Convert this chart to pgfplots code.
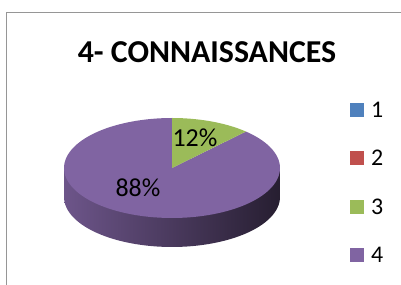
\documentclass[border=0pt]{standalone}
\usepackage{fontspec}
\setmainfont{Carlito}
\usepackage{pgfplots}
\pgfplotsset{compat=1.18}
\definecolor{c1}{HTML}{4F81BD}
\definecolor{c2}{HTML}{C0504D}
\definecolor{c3}{HTML}{9BBB59}
\definecolor{c4}{HTML}{8064A2}
\definecolor{frame}{RGB}{150,150,150}
% pie values (percent)
\def\valA{0}\def\valB{0}\def\valC{12}\def\valD{88}
% geometry (in axis units = bp)
\def\cx{172}\def\cy{117}\def\ra{108}\def\rb{50}\def\dep{29}
\begin{document}
\begin{tikzpicture}
\pgfmathsetmacro{\angC}{90-3.6*\valC}
\pgfmathsetmacro{\angD}{\angC-3.6*\valD}
\begin{axis}[
  at={(0,0)}, anchor=south west,
  scale only axis, width=401bp, height=285bp,
  xmin=0, xmax=401, ymin=0, ymax=285,
  hide axis, clip=false,
]
% frame
\addplot[frame, line width=1.6bp] coordinates {(6.5,0) (6.5,272.5) (401,272.5)};
% side of pie
\addplot[draw=none, left color=c4!85!black, right color=c4!30!black,
  domain=180:360, samples=60] ({\cx+\ra*cos(x)}, {\cy-\dep+\rb*sin(x)}) -- (axis cs:\cx+\ra,\cy) -- (axis cs:\cx-\ra,\cy) -- cycle;
% top faces
\addplot[draw=none, fill=c4, domain=\angD:\angC, samples=120]
  ({\cx+\ra*cos(x)}, {\cy+\rb*sin(x)}) -- (axis cs:\cx,\cy) -- cycle;
\addplot[draw=none, fill=c3, domain=\angC:90, samples=30]
  ({\cx+\ra*cos(x)}, {\cy+\rb*sin(x)}) -- (axis cs:\cx,\cy) -- cycle;
% labels
\node[font=\fontsize{26}{26}\selectfont, anchor=base] at (axis cs:195,138) {12\%};
\node[font=\fontsize{26}{26}\selectfont, anchor=base] at (axis cs:138,88) {88\%};
% title
\node[font=\fontsize{32}{32}\selectfont\bfseries, anchor=base] at (axis cs:207,222) {4- CONNAISSANCES};
% legend
\addplot[fill=c1, draw=none] coordinates {(350,168) (364,168) (364,182) (350,182)} -- cycle;
\addplot[fill=c2, draw=none] coordinates {(350,120) (364,120) (364,134) (350,134)} -- cycle;
\addplot[fill=c3, draw=none] coordinates {(350,71) (364,71) (364,85) (350,85)} -- cycle;
\addplot[fill=c4, draw=none] coordinates {(350,23) (364,23) (364,37) (350,37)} -- cycle;
\node[font=\fontsize{24}{24}\selectfont, anchor=base west, inner sep=0pt] at (axis cs:371,167.5) {1};
\node[font=\fontsize{24}{24}\selectfont, anchor=base west, inner sep=0pt] at (axis cs:371,119.5) {2};
\node[font=\fontsize{24}{24}\selectfont, anchor=base west, inner sep=0pt] at (axis cs:371,70.5) {3};
\node[font=\fontsize{24}{24}\selectfont, anchor=base west, inner sep=0pt] at (axis cs:371,22.5) {4};
\end{axis}
\pgfresetboundingbox
\path (0,0) rectangle (401bp,285bp);
\end{tikzpicture}
\end{document}
